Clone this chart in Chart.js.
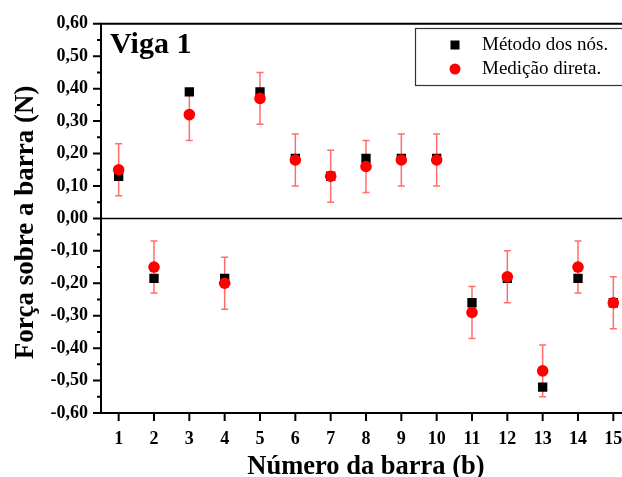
<!DOCTYPE html>
<html>
<head>
<meta charset="utf-8">
<script src="https://cdn.jsdelivr.net/npm/chart.js@4/dist/chart.umd.min.js"></script>
<style>
html,body{margin:0;padding:0;background:#fff;overflow:hidden;width:622px;height:477px;}
#wrap{position:absolute;left:0;top:0;width:640px;height:477px;}
</style>
</head>
<body>
<div id="wrap"><canvas id="c" width="640" height="477"></canvas></div>
<script>
// ---- data ----
const barras = [1,2,3,4,5,6,7,8,9,10,11,12,13,14,15];
const metodoNos = [0.13,-0.185,0.39,-0.185,0.39,0.185,0.13,0.185,0.185,0.185,-0.26,-0.185,-0.52,-0.185,-0.26];
const medicaoDireta = [0.15,-0.15,0.32,-0.20,0.37,0.18,0.13,0.16,0.18,0.18,-0.29,-0.18,-0.47,-0.15,-0.26];
const erroMedicao = [0.08,0.08,0.08,0.08,0.08,0.08,0.08,0.08,0.08,0.08,0.08,0.08,0.08,0.08,0.08];
const yTickValues = [-0.6,-0.5,-0.4,-0.3,-0.2,-0.1,0,0.1,0.2,0.3,0.4,0.5,0.6];
const yMinorValues = [-0.55,-0.45,-0.35,-0.25,-0.15,-0.05,0.05,0.15,0.25,0.35,0.45,0.55];
const seriesNames = ['Método dos nós.','Medição direta.'];
const chartTitle = 'Viga 1';
const xTitle = 'Número da barra (b)';
const yTitle = 'Força sobre a barra (N)';

const SERIF = '"Liberation Serif","Times New Roman",serif';

const framePlugin = {
  id:'frame',
  beforeDatasetsDraw(chart){
    const ctx = chart.ctx, a = chart.chartArea, xs = chart.scales.x, ys = chart.scales.y;
    ctx.save();
    // zero line
    ctx.strokeStyle='#000'; ctx.lineWidth=1.5;
    const y0 = ys.getPixelForValue(0);
    ctx.beginPath(); ctx.moveTo(a.left,y0); ctx.lineTo(a.right,y0); ctx.stroke();
    // error bars
    ctx.strokeStyle='rgba(255,60,60,0.75)'; ctx.lineWidth=1.5;
    barras.forEach((b,i)=>{
      const x = xs.getPixelForValue(b);
      const yt = ys.getPixelForValue(medicaoDireta[i]+erroMedicao[i]);
      const yb = ys.getPixelForValue(medicaoDireta[i]-erroMedicao[i]);
      ctx.beginPath();
      ctx.moveTo(x,yt); ctx.lineTo(x,yb);
      ctx.moveTo(x-3.5,yt); ctx.lineTo(x+3.5,yt);
      ctx.moveTo(x-3.5,yb); ctx.lineTo(x+3.5,yb);
      ctx.stroke();
    });
    ctx.restore();
  },
  afterDraw(chart){
    const ctx = chart.ctx, a = chart.chartArea, xs = chart.scales.x, ys = chart.scales.y;
    ctx.save();
    ctx.strokeStyle='#000'; ctx.lineWidth=2;
    // frame
    ctx.beginPath();
    ctx.moveTo(a.right,a.top); ctx.lineTo(a.left,a.top); ctx.lineTo(a.left,a.bottom); ctx.lineTo(a.right,a.bottom); ctx.lineTo(a.right,a.top);
    ctx.stroke();
    // ticks
    ctx.beginPath();
    yTickValues.forEach(v=>{const y=ys.getPixelForValue(v); ctx.moveTo(a.left,y); ctx.lineTo(a.left-8,y);});
    yMinorValues.forEach(v=>{const y=ys.getPixelForValue(v); ctx.moveTo(a.left,y); ctx.lineTo(a.left-4,y);});
    barras.forEach(v=>{const x=xs.getPixelForValue(v); ctx.moveTo(x,a.bottom); ctx.lineTo(x,a.bottom+8);});
    ctx.stroke();
    // chart title
    ctx.fillStyle='#000';
    ctx.font='bold 30px '+SERIF;
    ctx.textAlign='left'; ctx.textBaseline='alphabetic';
    ctx.fillText(chartTitle, a.left+9, 53);
    // axis titles
    ctx.font='bold 26.5px '+SERIF;
    ctx.textAlign='center';
    ctx.fillText(xTitle,(a.left+a.right)/2,474);
    ctx.save();
    ctx.font='bold 27px '+SERIF;
    ctx.translate(33,(a.top+a.bottom)/2+4);
    ctx.rotate(-Math.PI/2);
    ctx.fillText(yTitle,0,0);
    ctx.restore();
    // legend
    const lx=415, ly=28, lw=240, lh=57;
    ctx.fillStyle='#fff'; ctx.fillRect(lx,ly,lw,lh);
    ctx.lineWidth=1.2; ctx.strokeStyle='#333';
    ctx.strokeRect(lx+0.5,ly+0.5,lw,lh);
    const ds = chart.data.datasets;
    ctx.fillStyle=ds[0].backgroundColor;
    ctx.fillRect(455-4.5,45-4.5,9,9);
    ctx.fillStyle=ds[1].backgroundColor;
    ctx.beginPath(); ctx.arc(455,69,5.5,0,Math.PI*2); ctx.fill();
    ctx.fillStyle='#000';
    ctx.font='19px '+SERIF;
    ctx.textAlign='left'; ctx.textBaseline='middle';
    ctx.fillText(ds[0].label,482,45);
    ctx.fillText(ds[1].label,482,69);
    ctx.restore();
  }
};

new Chart(document.getElementById('c'),{
  type:'scatter',
  data:{
    datasets:[
      {label:seriesNames[0], data:barras.map((b,i)=>({x:b,y:metodoNos[i]})), order:2,
       pointStyle:'rect', pointRadius:6.6, backgroundColor:'#000', borderWidth:0},
      {label:seriesNames[1], data:barras.map((b,i)=>({x:b,y:medicaoDireta[i]})), order:1,
       pointStyle:'circle', pointRadius:5.8, backgroundColor:'#ff0000', borderWidth:0}
    ]
  },
  options:{
    responsive:false, animation:false, devicePixelRatio:1,
    layout:{padding:{left:0,right:9,top:21,bottom:0}},
    plugins:{legend:{display:false},tooltip:{enabled:false}},
    scales:{
      x:{type:'linear',min:0.5,max:15.5,
         afterBuildTicks(s){s.ticks=barras.map(v=>({value:v}));},
         afterFit(s){s.height=64;},
         grid:{display:false,drawTicks:false,tickLength:0},
         border:{display:false},
         ticks:{padding:16,color:'#000',font:{family:SERIF,size:18,weight:'bold'},maxRotation:0,autoSkip:false,
           callback:v=>String(v)}},
      y:{type:'linear',min:-0.6,max:0.6,
         afterBuildTicks(s){s.ticks=yTickValues.map(v=>({value:v}));},
         afterFit(s){s.width=101;},
         grid:{display:false,drawTicks:false,tickLength:0},
         border:{display:false},
         ticks:{padding:13,color:'#000',font:{family:SERIF,size:18,weight:'bold'},autoSkip:false,
           callback:v=>Number(v).toFixed(2).replace('.',',')}}
    }
  },
  plugins:[framePlugin]
});
</script>
</body>
</html>
